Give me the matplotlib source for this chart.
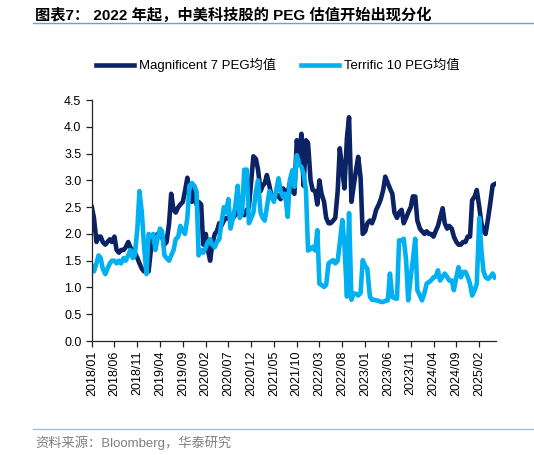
import numpy as np
import pandas as pd
import matplotlib
matplotlib.use("Agg")
import matplotlib.pyplot as plt
from matplotlib.lines import Line2D

plt.rcParams['font.family'] = ['Liberation Sans', 'Noto Sans CJK SC']

# semi-monthly readings, 2018-01 .. 2025-05 (1st and 15th of each month)
dates = pd.date_range('2018-01-01', periods=178, freq='SMS')

mag7 = [
    2.5, 2.3, 1.85, 1.95, 1.95, 1.85, 1.8, 1.85, 1.9, 1.85,
    1.95, 1.7, 1.65, 1.7, 1.7, 1.75, 1.85, 1.75, 1.7, 1.65,
    1.55, 1.45, 1.35, 1.3, 1.35, 1.3, 1.75, 1.95, 1.9, 2.0,
    2.0, 1.95, 1.8, 1.85, 2.2, 2.75, 2.45, 2.4, 2.5, 2.55,
    2.6, 2.8, 3.05, 2.7, 2.6, 2.9, 2.55, 2.6, 2.55, 1.8,
    2.0, 1.7, 1.5, 1.8, 2.0, 2.05, 2.2, 2.15, 2.25, 2.3,
    2.3, 2.25, 2.3, 2.35, 2.4, 2.45, 2.4, 2.35, 2.45, 2.5,
    3.0, 3.45, 3.4, 3.2, 2.8, 2.9, 2.95, 3.1, 2.9, 2.7,
    2.65, 2.75, 2.7, 2.65, 2.85, 2.8, 2.75, 2.95, 2.8, 2.75,
    3.75, 3.45, 3.87, 2.9, 3.75, 3.7, 3.0, 2.82, 2.8, 2.55,
    3.0, 2.75, 2.6, 2.3, 2.2, 2.2, 2.25, 2.3, 2.8, 3.6,
    3.2, 2.85, 3.8, 4.18, 2.6, 2.88, 3.2, 3.44, 3.05, 2.0,
    2.05, 2.2, 2.25, 2.2, 2.3, 2.45, 2.55, 2.65, 2.82, 3.07,
    2.95, 2.85, 2.75, 2.4, 2.3, 2.4, 2.45, 2.2, 2.3, 2.4,
    2.5, 2.7, 2.7, 2.25, 2.1, 2.05, 2.0, 2.05, 2.0, 2.0,
    1.95, 2.05, 2.15, 2.3, 2.48, 2.2, 2.1, 2.15, 2.1, 1.95,
    1.85, 1.8, 1.8, 1.85, 1.85, 1.95, 1.95, 2.63, 2.7, 2.82,
    2.5, 2.2, 2.05, 2.0, 2.3, 2.57, 2.91, 2.93,
]

terrific10 = [
    1.4, 1.3, 1.45, 1.6, 1.55, 1.35, 1.25, 1.35, 1.45, 1.5,
    1.5, 1.45, 1.5, 1.45, 1.55, 1.5, 1.6, 1.7, 1.55, 1.6,
    2.1, 2.8, 2.4, 1.8, 1.25, 2.0, 1.95, 2.0, 1.7, 1.9,
    2.1, 2.05, 1.6, 1.55, 1.5, 1.6, 1.7, 1.9, 1.95, 2.15,
    2.05, 2.0, 2.3, 2.9, 2.95, 2.9, 2.8, 1.6, 1.7, 1.65,
    1.75, 1.85, 1.9, 1.8, 1.75, 1.85, 1.9, 2.2, 2.5, 2.4,
    2.65, 2.1, 2.3, 2.5, 2.9, 2.3, 2.4, 3.2, 3.2, 2.2,
    2.3, 2.4, 2.8, 3.0, 2.4, 2.3, 2.25, 2.5, 2.8, 2.7,
    2.6, 2.8, 3.04, 2.8, 2.69, 2.75, 2.32, 3.0, 3.19, 2.88,
    3.47, 3.3, 3.25, 3.13, 2.82, 1.69, 1.72, 1.76, 1.69, 2.07,
    1.07, 1.05, 1.01, 1.05, 1.45, 1.48, 1.51, 1.45, 1.5, 1.83,
    2.26, 1.8, 0.83, 2.39, 0.77, 0.89, 0.88, 0.85, 0.9, 1.51,
    1.4, 1.35, 0.83, 0.77, 0.77, 0.76, 0.75, 0.73, 0.73, 0.75,
    0.76, 1.26, 0.82, 0.8, 0.79, 1.88, 1.88, 1.91, 1.51, 0.76,
    1.2, 1.51, 1.91, 0.95, 0.85, 0.76, 0.9, 1.07, 1.1, 1.13,
    1.19, 1.2, 1.32, 1.13, 1.2, 1.26, 1.2, 1.13, 1.13, 0.95,
    1.2, 1.38, 1.19, 1.29, 1.29, 1.2, 1.07, 0.85, 0.95, 1.07,
    2.3, 1.69, 1.3, 1.19, 1.16, 1.2, 1.26, 1.19,
]

tick_labels = ['2018/01', '2018/06', '2018/11', '2019/04', '2019/09', '2020/02',
               '2020/07', '2020/12', '2021/05', '2021/10', '2022/03', '2022/08',
               '2023/01', '2023/06', '2023/11', '2024/04', '2024/09', '2025/02']

dark = '#0B2265'
light = '#00B0F0'

fig = plt.figure(figsize=(5.34, 4.55), dpi=100)
ax = fig.add_axes([0.172, 0.2505, 0.757, 0.5295])

ax.plot(dates, mag7, color=dark, lw=3.3, solid_joinstyle='round')
ax.plot(dates, terrific10, color=light, lw=3.3, solid_joinstyle='round')

ax.set_ylim(0, 4.5)
ax.set_yticks(np.arange(0, 4.51, 0.5))
ax.set_yticklabels([f'{v:.1f}' for v in np.arange(0, 4.51, 0.5)])
ax.set_xlim(pd.Timestamp('2018-01-01'), pd.Timestamp('2025-05-24'))
tick_pos = [pd.Timestamp(t.replace('/', '-') + '-01') for t in tick_labels]
ax.set_xticks(tick_pos)
ax.set_xticklabels(tick_labels, rotation=90)

for s in ['top', 'right']:
    ax.spines[s].set_visible(False)
for s in ['left', 'bottom']:
    ax.spines[s].set_color('#222222')
    ax.spines[s].set_linewidth(0.9)
ax.tick_params(axis='both', direction='out', length=4, width=0.9,
               colors='#222222', labelsize=9, labelcolor='black')
ax.tick_params(axis='x', pad=3)

handles = [Line2D([], [], color=dark, lw=3.3),
           Line2D([], [], color=light, lw=3.3)]
fig.legend(handles, ['Magnificent 7 PEG均值', 'Terrific 10 PEG均值'],
           loc='center', bbox_to_anchor=(0.52, 0.857), ncol=2, frameon=False,
           fontsize=9.5, handlelength=2.9, handletextpad=0.35,
           columnspacing=1.9)

fig.text(0.066, 0.967, '图表7： 2022 年起，中美科技股的 PEG 估值开始出现分化',
         fontsize=11, fontweight='bold', ha='left', va='center')
fig.add_artist(Line2D([0.062, 1.0], [0.949, 0.949], color='#7F9CC0', lw=1.0))
fig.add_artist(Line2D([0.062, 1.0], [0.057, 0.057], color='#A6BDD7', lw=1.0))
fig.text(0.066, 0.027, '资料来源：Bloomberg，华泰研究', fontsize=9.5,
         color='#7F7F7F', ha='left', va='center')

fig.savefig('out.png', dpi=100)
